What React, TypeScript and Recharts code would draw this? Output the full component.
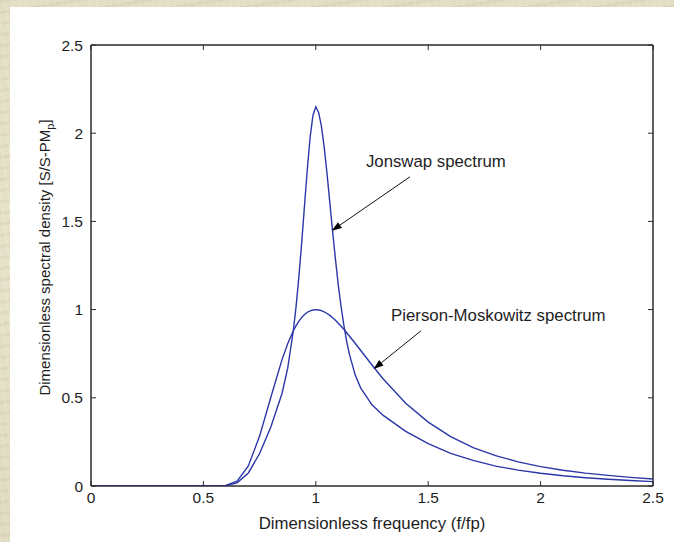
import React from 'react';
import { LineChart, Line, XAxis, YAxis, ReferenceLine, ReferenceDot, ReferenceArea } from 'recharts';

// Dimensionless frequency f/fp
const freq = [
  0, 0.25, 0.5, 0.55, 0.6, 0.65, 0.7, 0.75, 0.8, 0.85, 0.875, 0.9, 0.9125, 0.925, 0.9375,
  0.95, 0.9625, 0.975, 0.9875, 1.0, 1.0125, 1.025, 1.0375, 1.05, 1.0625, 1.075, 1.0875,
  1.1, 1.1125, 1.125, 1.1375, 1.15, 1.175, 1.2, 1.25, 1.3, 1.4, 1.5, 1.6, 1.7,
  1.8, 1.9, 2.0, 2.1, 2.2, 2.3, 2.4, 2.5,
];

// Jonswap spectrum, normalised by the Pierson-Moskowitz peak
const jonswap = [
  0, 0, 0, 0, 0.002, 0.018, 0.074, 0.184, 0.334, 0.526, 0.668, 0.88, 1.02, 1.19, 1.384,
  1.594, 1.8, 1.98, 2.102, 2.15, 2.118, 2.04, 1.918, 1.77, 1.605, 1.44, 1.285,
  1.14, 1.016, 0.91, 0.819, 0.745, 0.63, 0.555, 0.46, 0.4, 0.31, 0.24, 0.185, 0.145,
  0.113, 0.09, 0.072, 0.058, 0.047, 0.038, 0.031, 0.025,
];

// Pierson-Moskowitz spectrum, normalised by its own peak
const piersonMoskowitz = [
  0, 0, 0, 0, 0.003, 0.027, 0.114, 0.283, 0.503, 0.718, 0.807, 0.88, 0.909, 0.935, 0.956,
  0.972, 0.985, 0.993, 0.998, 1.0, 0.998, 0.994, 0.987, 0.978, 0.967, 0.954, 0.939,
  0.923, 0.906, 0.888, 0.869, 0.849, 0.809, 0.768, 0.686, 0.607, 0.469, 0.362, 0.28, 0.218,
  0.172, 0.137, 0.11, 0.089, 0.073, 0.06, 0.049, 0.04,
];

const xTicks = [0, 0.5, 1, 1.5, 2, 2.5];
const yTicks = [0, 0.5, 1, 1.5, 2, 2.5];

const xLabel = 'Dimensionless frequency (f/fp)';
const yLabelMain = 'Dimensionless spectral density [S/S-PM';
const yLabelSub = 'p';
const yLabelEnd = ']';
const jonswapLabel = 'Jonswap spectrum';
const pmLabel = 'Pierson-Moskowitz spectrum';

// Annotation anchors in data units: text position, arrow tail, arrow tip
const jonswapText = { f: 1.223, s: 1.806 };
const jonswapArrow = [{ f: 1.419, s: 1.753 }, { f: 1.071, s: 1.447 }];
const pmText = { f: 1.335, s: 0.935 };
const pmArrow = [{ f: 1.468, s: 0.88 }, { f: 1.257, s: 0.663 }];

const data = freq.map((f, i) => ({ f, js: jonswap[i], pm: piersonMoskowitz[i] }));

const FONT = '"Liberation Sans", Arial, Helvetica, sans-serif';
const AXIS = '#2a2a2a';
const TEXT = '#1e1e1e';
const LINE = '#2b36a8';
const TICK_LEN = 5;

const fmt = (v: number) => String(v);

const BottomTick = (props: any) => {
  const { x, y, payload } = props;
  return (
    <g>
      <line x1={x} y1={y} x2={x} y2={y - TICK_LEN} stroke={AXIS} strokeWidth={1} />
      <text x={x} y={y + 17} textAnchor="middle" fontFamily={FONT} fontSize={15.5} fill={TEXT}>
        {fmt(payload.value)}
      </text>
    </g>
  );
};

const TopTick = (props: any) => {
  const { x, y } = props;
  return <line x1={x} y1={y} x2={x} y2={y + TICK_LEN} stroke={AXIS} strokeWidth={1} />;
};

const LeftTick = (props: any) => {
  const { x, y, payload } = props;
  return (
    <g>
      <line x1={x} y1={y} x2={x + TICK_LEN} y2={y} stroke={AXIS} strokeWidth={1} />
      <text x={x - 8} y={y + 5.5} textAnchor="end" fontFamily={FONT} fontSize={15.5} fill={TEXT}>
        {fmt(payload.value)}
      </text>
    </g>
  );
};

const RightTick = (props: any) => {
  const { x, y } = props;
  return <line x1={x} y1={y} x2={x - TICK_LEN} y2={y} stroke={AXIS} strokeWidth={1} />;
};

const XTitle = (props: any) => {
  const { x, y, width } = props.viewBox;
  return (
    <text x={x + width / 2} y={y + 43} textAnchor="middle" fontFamily={FONT} fontSize={16.8} fill={TEXT}>
      {xLabel}
    </text>
  );
};

const YTitle = (props: any) => {
  const { y, height } = props.viewBox;
  const cx = 50;
  const cy = y + height / 2 - 8;
  return (
    <text
      x={cx}
      y={cy}
      transform={`rotate(-90, ${cx}, ${cy})`}
      textAnchor="middle"
      fontFamily={FONT}
      fontSize={15}
      fill={TEXT}
    >
      {yLabelMain}
      <tspan fontSize={11} dy={4}>{yLabelSub}</tspan>
      <tspan dy={-4}>{yLabelEnd}</tspan>
    </text>
  );
};

const ArrowShape = (props: any) => {
  const { x1, y1, x2, y2 } = props;
  const ang = Math.atan2(y2 - y1, x2 - x1);
  const len = 10;
  const half = 3.5;
  const c = Math.cos(ang);
  const s = Math.sin(ang);
  const bx = x2 - len * c;
  const by = y2 - len * s;
  const p1 = `${x2},${y2}`;
  const p2 = `${bx - half * s},${by + half * c}`;
  const p3 = `${bx + half * s},${by - half * c}`;
  return (
    <g>
      <line x1={x1} y1={y1} x2={bx} y2={by} stroke="#111" strokeWidth={1} />
      <polygon points={`${p1} ${p2} ${p3}`} fill="#000" />
    </g>
  );
};

const textShape = (label: string) => (props: any) => (
  <text x={props.cx} y={props.cy} fontFamily={FONT} fontSize={16.8} fill={TEXT}>
    {label}
  </text>
);

// Parchment-like page background behind the white figure panel
const parchment = [
  'repeating-linear-gradient(83deg, rgba(255,255,255,0.10) 0px, rgba(255,255,255,0.10) 2px, rgba(0,0,0,0) 2px, rgba(0,0,0,0) 7px)',
  'repeating-linear-gradient(171deg, rgba(120,110,60,0.07) 0px, rgba(120,110,60,0.07) 3px, rgba(0,0,0,0) 3px, rgba(0,0,0,0) 11px)',
  'linear-gradient(180deg, #e2dec3 0%, #e6e2c9 50%, #dfdbbf 100%)',
].join(', ');

export default function App() {
  return (
    <div
      style={{
        position: 'absolute',
        left: 0,
        top: 0,
        width: 674,
        height: 542,
        background: parchment,
        overflow: 'hidden',
      }}
    >
      <div
        style={{
          position: 'absolute',
          left: 10,
          top: 7,
          width: 664,
          height: 535,
          background: '#ffffff',
        }}
      />
      <div style={{ position: 'absolute', left: 0, top: 0 }}>
        <LineChart
          width={674}
          height={542}
          data={data}
          margin={{ top: 44, right: 20, bottom: 26, left: 0 }}
        >
          <XAxis
            dataKey="f"
            type="number"
            domain={[0, 2.5]}
            ticks={xTicks}
            interval={0}
            allowDataOverflow
            height={30}
            tickSize={0}
            tickMargin={0}
            tickLine={false}
            tick={BottomTick}
            axisLine={{ stroke: AXIS, strokeWidth: 1 }}
            label={{ content: XTitle }}
          />
          <XAxis
            xAxisId="top"
            orientation="top"
            dataKey="f"
            type="number"
            domain={[0, 2.5]}
            ticks={xTicks}
            interval={0}
            allowDataOverflow
            height={1}
            tickSize={0}
            tickMargin={0}
            tickLine={false}
            tick={TopTick}
            axisLine={{ stroke: AXIS, strokeWidth: 1 }}
          />
          <YAxis
            type="number"
            domain={[0, 2.5]}
            ticks={yTicks}
            interval={0}
            allowDataOverflow
            width={91}
            tickSize={0}
            tickMargin={0}
            tickLine={false}
            tick={LeftTick}
            axisLine={{ stroke: AXIS, strokeWidth: 1 }}
            label={{ content: YTitle }}
          />
          <YAxis
            yAxisId="right"
            orientation="right"
            type="number"
            domain={[0, 2.5]}
            ticks={yTicks}
            interval={0}
            allowDataOverflow
            width={1}
            tickSize={0}
            tickMargin={0}
            tickLine={false}
            tick={RightTick}
            axisLine={{ stroke: AXIS, strokeWidth: 1 }}
          />
          <ReferenceArea
            x1={0}
            x2={2.5}
            y1={0}
            y2={2.5}
            fill="none"
            fillOpacity={0}
            stroke={AXIS}
            strokeWidth={1}
            ifOverflow="visible"
          />
          <Line
            type="linear"
            dataKey="pm"
            stroke={LINE}
            strokeWidth={1.4}
            dot={false}
            isAnimationActive={false}
          />
          <Line
            type="linear"
            dataKey="js"
            stroke={LINE}
            strokeWidth={1.4}
            dot={false}
            isAnimationActive={false}
          />
          <ReferenceLine
            segment={[
              { x: jonswapArrow[0].f, y: jonswapArrow[0].s },
              { x: jonswapArrow[1].f, y: jonswapArrow[1].s },
            ]}
            shape={ArrowShape}
          />
          <ReferenceLine
            segment={[
              { x: pmArrow[0].f, y: pmArrow[0].s },
              { x: pmArrow[1].f, y: pmArrow[1].s },
            ]}
            shape={ArrowShape}
          />
          <ReferenceDot x={jonswapText.f} y={jonswapText.s} r={0} shape={textShape(jonswapLabel)} />
          <ReferenceDot x={pmText.f} y={pmText.s} r={0} shape={textShape(pmLabel)} />
        </LineChart>
      </div>
    </div>
  );
}
